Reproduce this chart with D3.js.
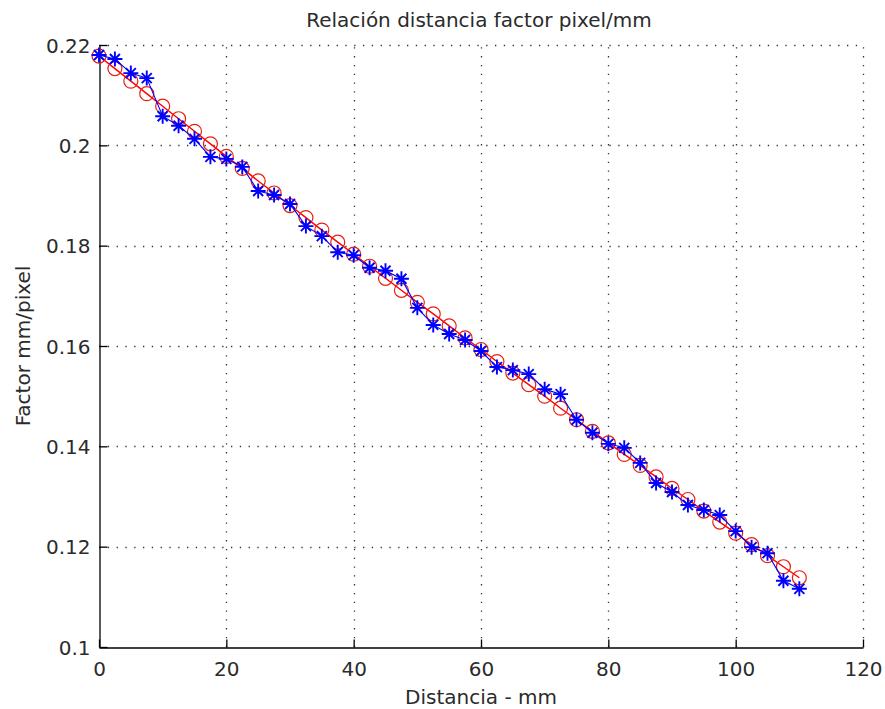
<!DOCTYPE html>
<html>
<head>
<meta charset="utf-8">
<script src="https://cdn.jsdelivr.net/npm/d3@7"></script>
<style>
  html, body { margin: 0; padding: 0; background: #fff; }
  svg { display: block; font-family: "DejaVu Sans", sans-serif; }
  .tick-label, .axis-title { font-size: 20px; fill: #2b2b2b; }
</style>
</head>
<body>
<svg width="885" height="709"></svg>
<script>
//  Distance samples (mm), measured factor (blue stars) and fitted factor (red circles)
const distances = [0, 2.5, 5, 7.5, 10, 12.5, 15, 17.5, 20, 22.5, 25, 27.5, 30, 32.5, 35, 37.5,
    40, 42.5, 45, 47.5, 50, 52.5, 55, 57.5, 60, 62.5, 65, 67.5, 70, 72.5, 75, 77.5,
    80, 82.5, 85, 87.5, 90, 92.5, 95, 97.5, 100, 102.5, 105, 107.5, 110];

const measured = [0.2180, 0.2172, 0.2144, 0.2134, 0.2058, 0.2039, 0.2013, 0.1977, 0.1973, 0.1957,
    0.1909, 0.1901, 0.1883, 0.1839, 0.1819, 0.1787, 0.1781, 0.1756, 0.1750, 0.1734,
    0.1676, 0.1642, 0.1624, 0.1612, 0.1590, 0.1558, 0.1552, 0.1544, 0.1514, 0.1504,
    0.1453, 0.1427, 0.1405, 0.1397, 0.1367, 0.1327, 0.1309, 0.1283, 0.1273, 0.1263,
    0.1231, 0.1199, 0.1187, 0.1132, 0.1116];

const fitted = [0.2178, 0.2153, 0.2128, 0.2103, 0.2078, 0.2053, 0.2028, 0.2003, 0.1978, 0.1954,
    0.1929, 0.1905, 0.1880, 0.1856, 0.1831, 0.1807, 0.1783, 0.1759, 0.1735, 0.1711,
    0.1687, 0.1664, 0.1640, 0.1616, 0.1593, 0.1569, 0.1546, 0.1523, 0.1500, 0.1476,
    0.1453, 0.1430, 0.1407, 0.1384, 0.1362, 0.1339, 0.1316, 0.1294, 0.1271, 0.1249,
    0.1227, 0.1204, 0.1182, 0.1160, 0.1138];

const xTicks = [0, 20, 40, 60, 80, 100, 120];
const yTicks = [0.1, 0.12, 0.14, 0.16, 0.18, 0.2, 0.22];


const svg = d3.select('svg');
const plot = { left: 99, right: 863, top: 45, bottom: 647 };

const xScale = d3.scaleLinear().domain([0, 120]).range([plot.left, plot.right]);
const yScale = d3.scaleLinear().domain([0.1, 0.22]).range([plot.bottom, plot.top]);


//======================================
//  Grid (dotted)
//======================================
const grid = svg.append('g')
    .attr('stroke', '#333')
    .attr('stroke-width', 1.3)
    .attr('stroke-dasharray', '1.3 7.5');

grid.selectAll('.vgrid')
    .data(xTicks.slice(1))
    .enter()
    .append('line')
    .attr('x1', d => Math.round(xScale(d)) + 0.5)
    .attr('x2', d => Math.round(xScale(d)) + 0.5)
    .attr('y1', plot.bottom)
    .attr('y2', plot.top);

grid.selectAll('.hgrid')
    .data(yTicks.slice(1))
    .enter()
    .append('line')
    .attr('y1', d => Math.round(yScale(d)) + 0.5)
    .attr('y2', d => Math.round(yScale(d)) + 0.5)
    .attr('x1', plot.left)
    .attr('x2', plot.right);


//======================================
//  Axes (left & bottom, ticks inward)
//======================================
const xAxis = d3.axisBottom(xScale)
    .tickValues(xTicks)
    .tickSizeInner(-8)
    .tickSizeOuter(0)
    .tickPadding(13)
    .tickFormat(d3.format('d'));

const xAxisGroup = svg.append('g')
    .attr('transform', `translate(0, ${plot.bottom + 0.5})`)
    .call(xAxis);

const yAxis = d3.axisLeft(yScale)
    .tickValues(yTicks)
    .tickSizeInner(-8)
    .tickSizeOuter(0)
    .tickPadding(9)
    .tickFormat(d => String(+d.toFixed(2)));

const yAxisGroup = svg.append('g')
    .attr('transform', `translate(${plot.left + 0.5}, 0)`)
    .call(yAxis);

[xAxisGroup, yAxisGroup].forEach(g => {
    g.attr('font-family', null).attr('font-size', null);
    g.selectAll('path, line').attr('stroke', '#000').attr('stroke-width', 1.3);
    g.selectAll('text').attr('class', 'tick-label').attr('fill', null);
});
xAxisGroup.selectAll('text').attr('dy', '0.75em');
yAxisGroup.selectAll('text').attr('dy', '0.36em');


//======================================
//  Series
//======================================
const seriesLine = d3.line()
    .x((d, i) => xScale(distances[i]))
    .y(d => yScale(d));

svg.append('path')
    .datum(fitted)
    .attr('d', seriesLine)
    .attr('fill', 'none')
    .attr('stroke', '#f00')
    .attr('stroke-width', 1.4);

svg.append('g')
    .selectAll('circle')
    .data(fitted)
    .enter()
    .append('circle')
    .attr('cx', (d, i) => xScale(distances[i]))
    .attr('cy', d => yScale(d))
    .attr('r', 7)
    .attr('fill', 'none')
    .attr('stroke', '#e8200c')
    .attr('stroke-width', 1.2);

svg.append('path')
    .datum(measured)
    .attr('d', seriesLine)
    .attr('fill', 'none')
    .attr('stroke', '#00f')
    .attr('stroke-width', 1.1);

//  Asterisk marker: plus + cross
const s = 7.5, k = 5;
const starPath = `M${-s},0L${s},0M0,${-s}L0,${s}M${-k},${-k}L${k},${k}M${-k},${k}L${k},${-k}`;

svg.append('g')
    .selectAll('path')
    .data(measured)
    .enter()
    .append('path')
    .attr('transform', (d, i) => `translate(${xScale(distances[i])}, ${yScale(d)})`)
    .attr('d', starPath)
    .attr('stroke', '#00f')
    .attr('stroke-width', 1.9)
    .attr('fill', 'none');


//======================================
//  Titles
//======================================
svg.append('text')
    .attr('class', 'axis-title')
    .attr('x', (plot.left + plot.right) / 2 - 2)
    .attr('y', 27)
    .attr('text-anchor', 'middle')
    .text('Relación distancia factor pixel/mm');

svg.append('text')
    .attr('class', 'axis-title')
    .attr('x', (plot.left + plot.right) / 2)
    .attr('y', 704)
    .attr('text-anchor', 'middle')
    .text('Distancia - mm');

svg.append('text')
    .attr('class', 'axis-title')
    .attr('transform', `translate(30, ${(plot.top + plot.bottom) / 2}) rotate(-90)`)
    .attr('text-anchor', 'middle')
    .text('Factor mm/pixel');
</script>
</body>
</html>
